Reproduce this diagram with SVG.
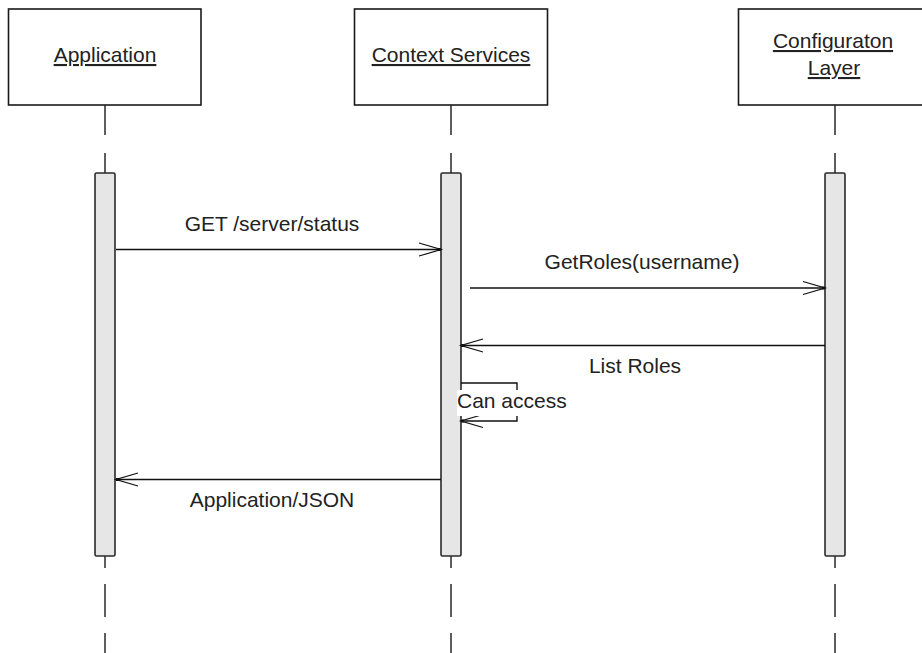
<svg xmlns="http://www.w3.org/2000/svg" width="922" height="653" viewBox="0 0 922 653">
<defs>
<style>
.box{fill:#fff;stroke:#1a1a1a;stroke-width:1.6}
.act{fill:#e6e6e6;stroke:#2a2a2a;stroke-width:1.6}
.life{stroke:#2a2a2a;stroke-width:1.5;fill:none}
.msg{stroke:#111;stroke-width:1.4;fill:none}
.t{font-family:"Liberation Sans",Arial,sans-serif;font-size:21px;fill:#222}
.u{text-decoration:underline}
</style>
<marker id="ah" markerUnits="userSpaceOnUse" markerWidth="30" markerHeight="20" viewBox="-25 -10 30 20" refX="0" refY="0" orient="auto">
<path d="M-22,-6.5 L0,0 L-22,6.5" fill="none" stroke="#111" stroke-width="1.3"/>
<rect x="-3" y="-1.5" width="3" height="3" fill="#111"/>
</marker>
</defs>
<rect width="922" height="653" fill="#fff"/>
<g id="lifelines">
<path class="life" d="M105,105V135M105,153V173M105,556V568M105,584V617M105,633V653"/>
<path class="life" d="M451,105V135M451,153V173M451,556V568M451,584V617M451,633V653"/>
<path class="life" d="M835,105V135M835,153V173M835,556V568M835,584V617M835,633V653"/>
</g>
<g id="node-application">
<rect class="box" x="8.5" y="9" width="192.5" height="96"/>
<text class="t u" x="105" y="62" text-anchor="middle">Application</text>
<rect class="act" x="95" y="173" width="20" height="383" rx="1.5"/>
</g>
<g id="node-context">
<rect class="box" x="354.5" y="9" width="193" height="96"/>
<text class="t u" x="451" y="62" text-anchor="middle">Context Services</text>
<rect class="act" x="441" y="173" width="20" height="383" rx="1.5"/>
</g>
<g id="node-config">
<rect class="box" x="738.5" y="9" width="193" height="96"/>
<text class="t u" x="833" y="48" text-anchor="middle">Configuraton</text>
<text class="t u" x="834" y="75" text-anchor="middle">Layer</text>
<rect class="act" x="825" y="173" width="20" height="383" rx="1.5"/>
</g>
<g id="connectors">
<line class="msg" x1="116" y1="249.5" x2="441" y2="249.5" marker-end="url(#ah)"/>
<text class="t" x="272" y="231" text-anchor="middle">GET /server/status</text>
<line class="msg" x1="470" y1="288" x2="825" y2="288" marker-end="url(#ah)"/>
<text class="t" x="642" y="269" text-anchor="middle">GetRoles(username)</text>
<line class="msg" x1="825" y1="345.5" x2="461" y2="345.5" marker-end="url(#ah)"/>
<text class="t" x="635" y="373" text-anchor="middle">List Roles</text>
<path class="msg" d="M461,383H517V421H461" marker-end="url(#ah)"/>
<rect x="457" y="390" width="113" height="26" fill="#fff"/>
<text class="t" x="457" y="408">Can access</text>
<line class="msg" x1="441" y1="479.5" x2="116" y2="479.5" marker-end="url(#ah)"/>
<text class="t" x="272" y="507" text-anchor="middle">Application/JSON</text>
</g>
</svg>
